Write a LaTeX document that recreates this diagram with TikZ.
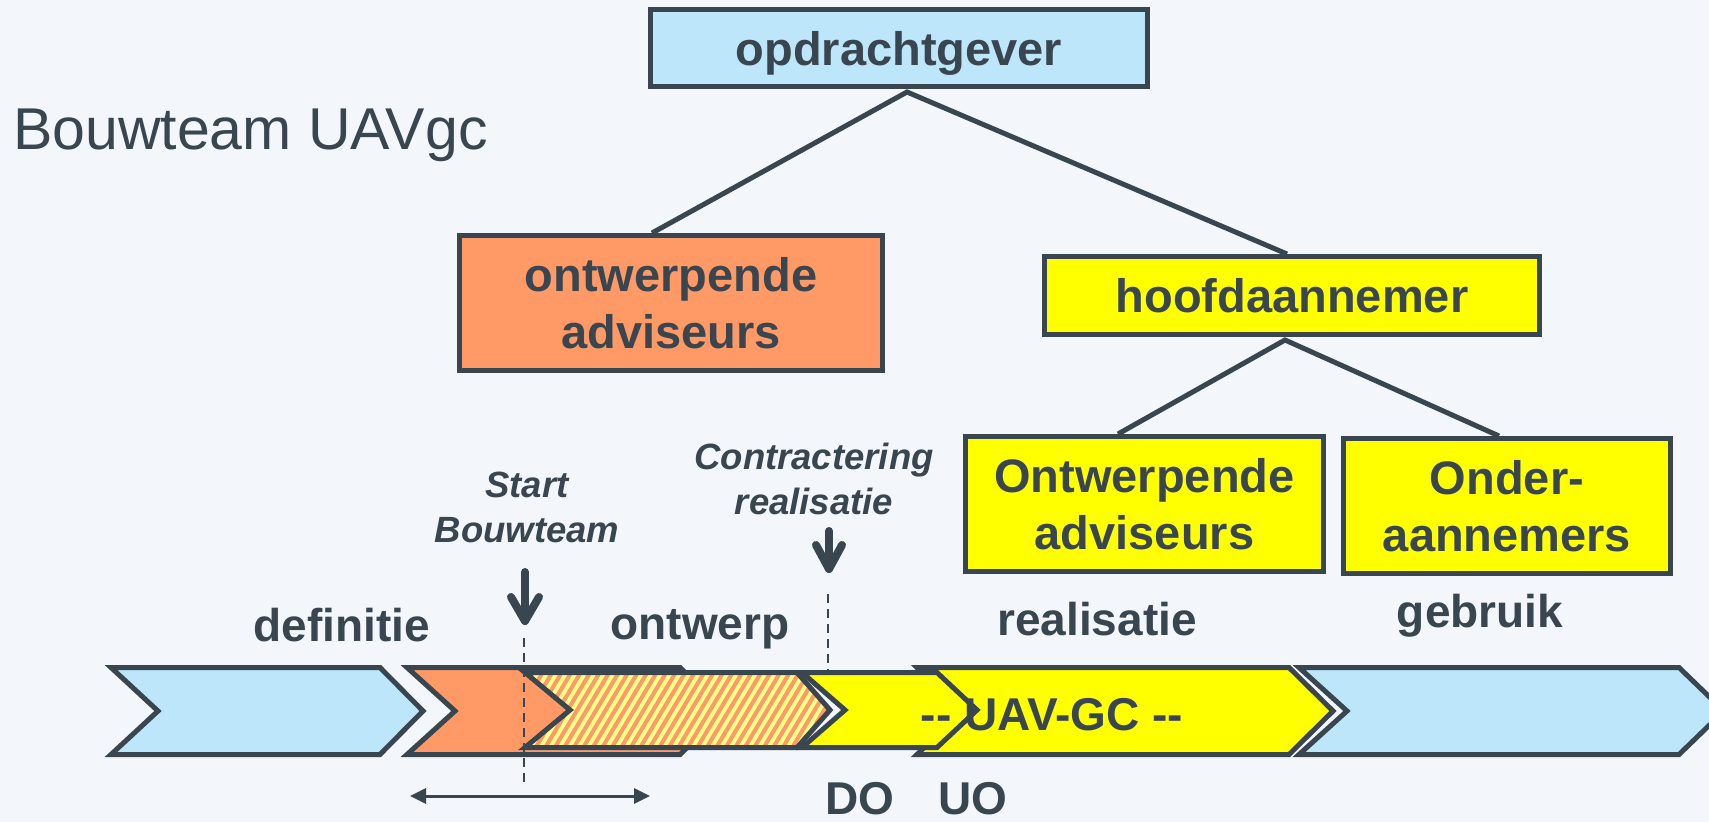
\documentclass[tikz,border=0pt]{standalone}
\usepackage{fontspec}
\setmainfont{Liberation Sans}
\usetikzlibrary{arrows.meta,calc}
\definecolor{bg}{RGB}{243,246,251}
\definecolor{dark}{RGB}{57,70,79}
\definecolor{lblue}{RGB}{189,230,250}
\definecolor{lorange}{RGB}{255,153,102}
\definecolor{lyellow}{RGB}{255,255,0}
\definecolor{stripecol}{RGB}{255,255,140}
\newcommand{\chevp}[7]{(#1,#3) -- (#2,#3) -- (#2+#7,#4) -- (#2,#5) -- (#1,#5) -- (#1+#6,#4) -- cycle}
\begin{document}
\begin{tikzpicture}[x=1pt,y=-1pt,
  box/.style={draw=dark, line width=5pt, rectangle, inner sep=0pt, text=dark,
    font=\bfseries\fontsize{47pt}{57pt}\selectfont, align=center},
  conn/.style={draw=dark, line width=5pt},
  chev/.style={draw=dark, line width=5pt, line join=miter},
  lbl/.style={text=dark, font=\bfseries\fontsize{46pt}{55pt}\selectfont, anchor=base, inner sep=0pt},
  mile/.style={text=dark, font=\bfseries\itshape\fontsize{36.5pt}{45pt}\selectfont, align=center, inner sep=0pt},
  bigarrow/.style={draw=dark, line width=8pt, line cap=round, line join=round},
  dashline/.style={draw=dark, line width=1.8pt, dash pattern=on 9pt off 6pt}]
\useasboundingbox (0,0) rectangle (1709,822);
\clip (0,0) rectangle (1709,822);
\fill[bg] (0,0) rectangle (1709,822);

% organisation boxes
\node[box, fill=lblue, minimum width=497pt, minimum height=77pt, text depth=0pt] (opdr) at (899,48) {opdrachtgever};
\node[box, fill=lorange, minimum width=423pt, minimum height=135pt] (ontw) at (671,303) {ontwerpende\\adviseurs};
\node[box, fill=lyellow, minimum width=495pt, minimum height=78pt] (hoofd) at (1292,295.5) {hoofdaannemer};
\node[box, fill=lyellow, minimum width=358pt, minimum height=135pt] (ontw2) at (1144.5,504) {Ontwerpende\\adviseurs};
\node[box, fill=lyellow, minimum width=327pt, minimum height=135pt] (onder) at (1507,506) {Onder-\\aannemers};

% connectors
\coordinate (apexA) at (907,92);
\coordinate (apexB) at (1285,340);
\draw[conn] ([xshift=-19pt]ontw.north) -- (apexA) -- ([xshift=-5pt]hoofd.north);
\draw[conn] ([xshift=-26.5pt]ontw2.north) -- (apexB) -- ([xshift=-8pt]onder.north);

% title
\node[anchor=base west, text=dark, font=\fontsize{59pt}{70pt}\selectfont, inner sep=0pt] (title) at (13,149) {Bouwteam UAVgc};

% chevron strip
\draw[chev, fill=lblue] \chevp{111}{380}{667.5}{711}{754.5}{47}{43};
\draw[chev, fill=lorange] \chevp{407}{680}{667.5}{711}{754.5}{48}{45};
\begin{scope}
  \clip \chevp{525}{797}{672.5}{710}{747.5}{45}{33};
  \fill[lorange] (500,660) rectangle (850,760);
  \foreach \x in {400,409.5,...,860} {\draw[stripecol, line width=3.8pt] (\x,760) -- (\x+60,660);}
\end{scope}
\draw[chev] \chevp{525}{797}{672.5}{710}{747.5}{45}{33};
\draw[chev, fill=lyellow] \chevp{917}{1289}{667.5}{711}{754.5}{45}{44};
\draw[chev, fill=lyellow] \chevp{802}{937}{672.5}{710}{747.5}{43}{40};
\draw[chev, fill=lblue] \chevp{1299}{1679}{667.5}{711}{754.5}{48}{45};

% milestone dashed lines
\coordinate (d1t) at (524,638);
\coordinate (d1b) at (524,782);
\coordinate (d2t) at (828,594);
\coordinate (d2b) at (828,670);
\draw[dashline] (d1t) -- (d1b);
\draw[dashline] (d2t) -- (d2b);

% milestone arrows
\coordinate (s1) at (525,572);
\coordinate (s1tip) at (525,621);
\coordinate (s1l) at (511,597);
\coordinate (s1r) at (539,597);
\draw[bigarrow] (s1) -- (s1tip);
\draw[bigarrow] (s1l) -- (s1tip) -- (s1r);
\coordinate (c1) at (829,531);
\coordinate (c1tip) at (829,569);
\coordinate (c1l) at (816,545);
\coordinate (c1r) at (842,545);
\draw[bigarrow] (c1) -- (c1tip);
\draw[bigarrow] (c1l) -- (c1tip) -- (c1r);

% bottom double arrow
\coordinate (bl) at (410,796);
\coordinate (br) at (650,796);
\draw[draw=dark, line width=3pt, {Triangle[length=16pt,width=15pt]}-{Triangle[length=16pt,width=15pt]}] (bl) -- (br);

% milestone labels
\node[mile] (start) at (527,507) {Start\\Bouwteam};
\node[mile] (contr) at (814,479) {Contractering\\realisatie};

% phase labels
\node[lbl] (def) at (342,641) {definitie};
\node[lbl] (ontwl) at (700,639) {ontwerp};
\node[lbl] (real) at (1097,635) {realisatie};
\node[lbl] (gebr) at (1480,627) {gebruik};
\node[lbl] (uav) at (1052,730) {-{}- UAV-GC -{}-};
\node[lbl] (do) at (860,814) {DO};
\node[lbl] (uo) at (973,814) {UO};
\end{tikzpicture}
\end{document}
